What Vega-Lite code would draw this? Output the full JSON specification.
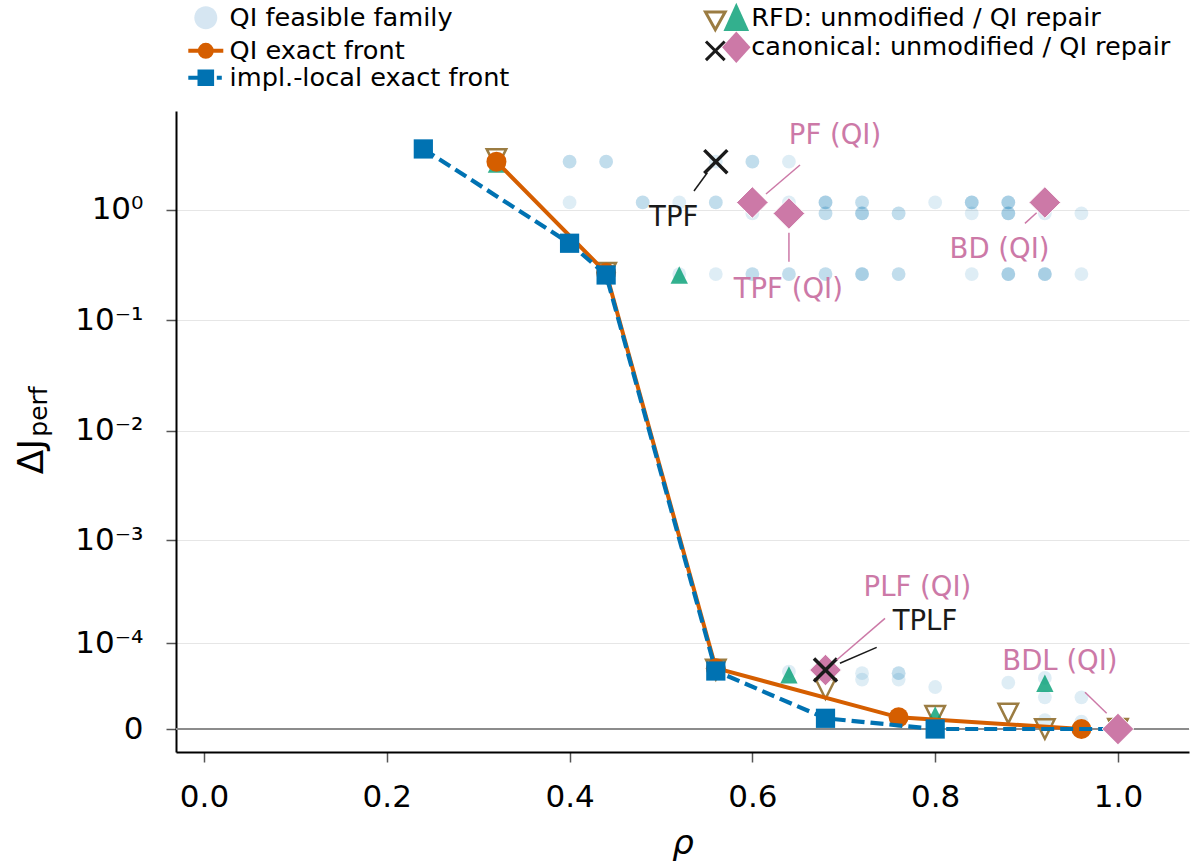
{
  "$schema": "https://vega.github.io/schema/vega-lite/v6.json",
  "width": 1013,
  "height": 641,
  "autosize": {"type": "none"},
  "padding": {"left": 176, "top": 111, "right": 2, "bottom": 113},
  "config": {
    "view": {"stroke": null},
    "font": "DejaVu Sans",
    "axis": {"labelFont": "DejaVu Sans", "titleFont": "DejaVu Sans"},
    "legend": {"labelFont": "DejaVu Sans"}
  },
  "datasets": {
    "feasible": [
      {"rho": 0.40, "dj": 2.74}, {"rho": 0.40, "dj": 2.74}, {"rho": 0.44, "dj": 2.74}, {"rho": 0.44, "dj": 2.74},
      {"rho": 0.56, "dj": 2.74}, {"rho": 0.60, "dj": 2.74}, {"rho": 0.60, "dj": 2.74}, {"rho": 0.64, "dj": 2.74},
      {"rho": 0.40, "dj": 1.17}, {"rho": 0.48, "dj": 1.17}, {"rho": 0.48, "dj": 1.17}, {"rho": 0.52, "dj": 1.17},
      {"rho": 0.56, "dj": 1.17}, {"rho": 0.56, "dj": 1.17}, {"rho": 0.60, "dj": 1.17}, {"rho": 0.64, "dj": 1.17},
      {"rho": 0.68, "dj": 1.17}, {"rho": 0.68, "dj": 1.17}, {"rho": 0.68, "dj": 1.17}, {"rho": 0.72, "dj": 1.17},
      {"rho": 0.72, "dj": 1.17}, {"rho": 0.80, "dj": 1.17}, {"rho": 0.84, "dj": 1.17}, {"rho": 0.84, "dj": 1.17},
      {"rho": 0.84, "dj": 1.17}, {"rho": 0.88, "dj": 1.17}, {"rho": 0.88, "dj": 1.17}, {"rho": 0.88, "dj": 1.17},
      {"rho": 0.92, "dj": 1.17},
      {"rho": 0.60, "dj": 0.93}, {"rho": 0.64, "dj": 0.93}, {"rho": 0.68, "dj": 0.93}, {"rho": 0.68, "dj": 0.93},
      {"rho": 0.72, "dj": 0.93}, {"rho": 0.72, "dj": 0.93}, {"rho": 0.72, "dj": 0.93}, {"rho": 0.76, "dj": 0.93},
      {"rho": 0.76, "dj": 0.93}, {"rho": 0.84, "dj": 0.93}, {"rho": 0.88, "dj": 0.93}, {"rho": 0.88, "dj": 0.93},
      {"rho": 0.88, "dj": 0.93}, {"rho": 0.92, "dj": 0.93}, {"rho": 0.96, "dj": 0.93},
      {"rho": 0.52, "dj": 0.263}, {"rho": 0.56, "dj": 0.263}, {"rho": 0.60, "dj": 0.263}, {"rho": 0.60, "dj": 0.263},
      {"rho": 0.64, "dj": 0.263}, {"rho": 0.64, "dj": 0.263}, {"rho": 0.68, "dj": 0.263}, {"rho": 0.68, "dj": 0.263},
      {"rho": 0.72, "dj": 0.263}, {"rho": 0.72, "dj": 0.263}, {"rho": 0.72, "dj": 0.263}, {"rho": 0.76, "dj": 0.263},
      {"rho": 0.76, "dj": 0.263}, {"rho": 0.84, "dj": 0.263}, {"rho": 0.88, "dj": 0.263}, {"rho": 0.88, "dj": 0.263},
      {"rho": 0.88, "dj": 0.263}, {"rho": 0.92, "dj": 0.263}, {"rho": 0.92, "dj": 0.263}, {"rho": 0.92, "dj": 0.263},
      {"rho": 0.96, "dj": 0.263},
      {"rho": 0.64, "dj": 4.6e-5}, {"rho": 0.72, "dj": 4.4e-5}, {"rho": 0.72, "dj": 3.6e-5}, {"rho": 0.76, "dj": 4.4e-5},
      {"rho": 0.76, "dj": 4.4e-5}, {"rho": 0.76, "dj": 3.6e-5}, {"rho": 0.80, "dj": 2.8e-5}, {"rho": 0.88, "dj": 3.25e-5},
      {"rho": 0.92, "dj": 3.8e-5}, {"rho": 0.92, "dj": 1.87e-5}, {"rho": 0.92, "dj": 4.1e-6}, {"rho": 0.96, "dj": 1.87e-5},
      {"rho": 0.96, "dj": 3.3e-6}
    ],
    "qi": [
      {"rho": 0.32, "dj": 2.74}, {"rho": 0.44, "dj": 0.27}, {"rho": 0.56, "dj": 5.1e-5},
      {"rho": 0.76, "dj": 5.5e-6}, {"rho": 0.96, "dj": 0}
    ],
    "impl": [
      {"rho": 0.24, "dj": 3.57}, {"rho": 0.40, "dj": 0.50}, {"rho": 0.44, "dj": 0.258},
      {"rho": 0.56, "dj": 4.7e-5}, {"rho": 0.68, "dj": 5.0e-6}, {"rho": 0.80, "dj": 0}
    ],
    "impl_line": [
      {"rho": 0.24, "dj": 3.57}, {"rho": 0.40, "dj": 0.50}, {"rho": 0.44, "dj": 0.258},
      {"rho": 0.56, "dj": 4.7e-5}, {"rho": 0.68, "dj": 5.0e-6}, {"rho": 0.80, "dj": 0}, {"rho": 1.0, "dj": 0}
    ],
    "rfd_unmod": [
      {"rho": 0.32, "dj": 2.9}, {"rho": 0.44, "dj": 0.271}, {"rho": 0.56, "dj": 4.9e-5}, {"rho": 0.68, "dj": 2.6e-5},
      {"rho": 0.80, "dj": 6.4e-6}, {"rho": 0.88, "dj": 7.7e-6}, {"rho": 0.92, "dj": 0}, {"rho": 1.0, "dj": 1e-7}
    ],
    "rfd_repair": [
      {"rho": 0.32, "dj": 2.6}, {"rho": 0.52, "dj": 0.258}, {"rho": 0.64, "dj": 4.17e-5},
      {"rho": 0.80, "dj": 6.8e-6}, {"rho": 0.92, "dj": 3.19e-5}
    ],
    "canon_unmod": [
      {"rho": 0.56, "dj": 2.74, "name": "TPF"}, {"rho": 0.68, "dj": 4.84e-5, "name": "TPLF"}
    ],
    "canon_repair": [
      {"rho": 0.60, "dj": 1.17, "name": "PF"}, {"rho": 0.64, "dj": 0.93, "name": "TPF"},
      {"rho": 0.92, "dj": 1.17, "name": "BD"}, {"rho": 0.68, "dj": 4.84e-5, "name": "PLF"},
      {"rho": 1.0, "dj": 0, "name": "BDL"}
    ],
    "annotations": [
      {"label": "PF (QI)", "kind": "QI repair", "tx": 0.6904, "ty": 4.675, "x1": 0.6149, "y1": 1.395, "x2": 0.6521, "y2": 2.556},
      {"label": "TPF (QI)", "kind": "QI repair", "tx": 0.6393, "ty": 0.1887, "x1": 0.640, "y1": 0.6226, "x2": 0.640, "y2": 0.3403},
      {"label": "BD (QI)", "kind": "QI repair", "tx": 0.8704, "ty": 0.4344, "x1": 0.8982, "y1": 0.7574, "x2": 0.9110, "y2": 0.9448},
      {"label": "TPF", "kind": "canonical", "tx": 0.5139, "ty": 0.8464, "x1": 0.5361, "y1": 1.486, "x2": 0.5507, "y2": 2.175},
      {"label": "PLF (QI)", "kind": "QI repair", "tx": 0.7806, "ty": 3.58e-4, "x1": 0.7451, "y1": 1.81e-4, "x2": 0.6922, "y2": 6.43e-5},
      {"label": "TPLF", "kind": "canonical", "tx": 0.7888, "ty": 1.661e-4, "x1": 0.736, "y1": 8.98e-5, "x2": 0.6958, "y2": 5.87e-5},
      {"label": "BDL (QI)", "kind": "QI repair", "tx": 0.9365, "ty": 6.13e-5, "x1": 0.9639, "y1": 2.3e-5, "x2": 0.9876, "y2": 7.74e-6}
    ]
  },
  "layer": [
    {
      "data": {"values": [{}]},
      "mark": {"type": "rule", "color": "#8c8c8c", "strokeWidth": 2},
      "encoding": {
        "y": {
          "datum": 0,
          "type": "quantitative",
          "scale": {"type": "symlog", "constant": 0.00002, "domain": [-0.000012304, 7.876], "nice": false, "zero": false},
          "axis": {
            "orient": "left",
            "values": [0, 0.0001, 0.001, 0.01, 0.1, 1],
            "labelExpr": "datum.value === 0 ? '0' : datum.value > 0.5 ? '10⁰' : datum.value > 0.05 ? '10⁻¹' : datum.value > 0.005 ? '10⁻²' : datum.value > 0.0005 ? '10⁻³' : '10⁻⁴'",
            "grid": true, "gridColor": "#e6e6e6", "gridWidth": 1.2,
            "tickSize": 10, "tickWidth": 1.5, "tickColor": "#555555",
            "domainColor": "#000000", "domainWidth": 2,
            "labelFontSize": 31, "labelPadding": 23, "labelColor": "#000000", "labelFlush": false, "labelOverlap": false,
            "title": "ΔJ", "titleFontSize": 36, "titleFontWeight": "normal", "titleColor": "#000000",
            "titleX": -134, "titleY": 345, "titleAngle": 270, "titleBaseline": "alphabetic", "titleAlign": "center"
          }
        }
      }
    },
    {
      "data": {"name": "feasible"},
      "mark": {"type": "point", "shape": "circle", "filled": true, "fill": "#0072b2", "fillOpacity": 0.13, "strokeWidth": 0, "size": 190, "opacity": 1},
      "encoding": {
        "x": {
          "field": "rho", "type": "quantitative",
          "scale": {"domain": [-0.0306, 1.0777], "nice": false, "zero": false},
          "axis": {
            "values": [0, 0.2, 0.4, 0.6, 0.8, 1], "format": ".1f",
            "labelFontSize": 31, "labelColor": "#000000", "labelPadding": 20, "labelFlush": false, "labelOverlap": false,
            "tickSize": 10, "tickWidth": 1.5, "tickColor": "#555555",
            "domainColor": "#000000", "domainWidth": 2, "grid": false,
            "title": "ρ", "titleFontSize": 34, "titleFontStyle": "italic", "titleFontWeight": "normal", "titlePadding": 14, "titleColor": "#000000"
          }
        },
        "y": {
          "field": "dj", "type": "quantitative",
          "axis": {
            "orient": "left", "labels": false, "ticks": false, "domain": false, "grid": false,
            "title": "perf", "titleFontSize": 25, "titleFontWeight": "normal", "titleColor": "#000000",
            "titleX": -130, "titleY": 300, "titleAngle": 270, "titleBaseline": "alphabetic", "titleAlign": "center"
          }
        }
      }
    },
    {
      "data": {"name": "rfd_unmod"},
      "mark": {"type": "point", "shape": "M-1,-1L1,-1L0,1Z", "filled": false, "stroke": "#9b7c42", "strokeWidth": 2.5, "size": 380, "opacity": 1},
      "encoding": {
        "x": {"field": "rho", "type": "quantitative"},
        "y": {"field": "dj", "type": "quantitative", "axis": null}
      }
    },
    {
      "data": {"name": "rfd_repair"},
      "mark": {"type": "point", "shape": "M0,-1L-1,1L1,1Z", "filled": true, "fill": "#009e73", "fillOpacity": 0.8, "strokeWidth": 0, "size": 300, "opacity": 1},
      "encoding": {
        "x": {"field": "rho", "type": "quantitative"},
        "y": {"field": "dj", "type": "quantitative", "axis": null}
      }
    },
    {
      "data": {"name": "qi"},
      "mark": {"type": "line", "color": "#d55e00", "strokeWidth": 4},
      "encoding": {
        "x": {"field": "rho", "type": "quantitative"},
        "y": {"field": "dj", "type": "quantitative", "axis": null}
      }
    },
    {
      "data": {"name": "qi"},
      "mark": {"type": "point", "shape": "circle", "filled": true, "fill": "#d55e00", "strokeWidth": 0, "size": 400, "opacity": 1},
      "encoding": {
        "x": {"field": "rho", "type": "quantitative"},
        "y": {"field": "dj", "type": "quantitative", "axis": null}
      }
    },
    {
      "data": {"name": "impl_line"},
      "mark": {"type": "line", "color": "#0072b2", "strokeWidth": 4.2, "strokeDash": [13, 6]},
      "encoding": {
        "x": {"field": "rho", "type": "quantitative"},
        "y": {"field": "dj", "type": "quantitative", "axis": null}
      }
    },
    {
      "data": {"name": "impl"},
      "mark": {"type": "point", "shape": "square", "filled": true, "fill": "#0072b2", "strokeWidth": 0, "size": 370, "opacity": 1},
      "encoding": {
        "x": {"field": "rho", "type": "quantitative"},
        "y": {"field": "dj", "type": "quantitative", "axis": null}
      }
    },
    {
      "data": {"name": "canon_repair"},
      "mark": {"type": "point", "shape": "diamond", "filled": true, "fill": "#cc79a7", "stroke": "#ffffff", "strokeWidth": 1, "size": 1000, "opacity": 1},
      "encoding": {
        "x": {"field": "rho", "type": "quantitative"},
        "y": {"field": "dj", "type": "quantitative", "axis": null}
      }
    },
    {
      "data": {"name": "canon_unmod"},
      "mark": {"type": "point", "shape": "M-1,-1L1,1M-1,1L1,-1", "filled": false, "stroke": "#1a1a1a", "strokeWidth": 3.5, "size": 530, "opacity": 1},
      "encoding": {
        "x": {"field": "rho", "type": "quantitative"},
        "y": {"field": "dj", "type": "quantitative", "axis": null}
      }
    },
    {
      "data": {"name": "annotations"},
      "mark": {"type": "rule", "strokeWidth": 1.5},
      "encoding": {
        "x": {"field": "x1", "type": "quantitative"},
        "y": {"field": "y1", "type": "quantitative", "axis": null},
        "x2": {"field": "x2"},
        "y2": {"field": "y2"},
        "color": {"field": "kind", "type": "nominal", "scale": {"domain": ["canonical", "QI repair"], "range": ["#1a1a1a", "#cc79a7"]}, "legend": null}
      }
    },
    {
      "data": {"name": "annotations"},
      "mark": {"type": "text", "fontSize": 27.5, "align": "center", "baseline": "middle", "font": "DejaVu Sans"},
      "encoding": {
        "x": {"field": "tx", "type": "quantitative"},
        "y": {"field": "ty", "type": "quantitative", "axis": null},
        "text": {"field": "label"},
        "color": {"field": "kind", "type": "nominal", "scale": {"domain": ["canonical", "QI repair"], "range": ["#1a1a1a", "#cc79a7"]}, "legend": null}
      }
    },
    {
      "data": {"values": []},
      "mark": {"type": "point", "filled": true, "opacity": 1},
      "encoding": {
        "shape": {
          "field": "la", "type": "nominal",
          "scale": {"domain": ["QI feasible family", "QI exact front", "impl.-local exact front"],
                    "range": ["M-1.15,0A1.15,1.15 0 1,1 1.15,0A1.15,1.15 0 1,1 -1.15,0Z",
                              "M-1.75,0H1.75M-0.6,0A0.6,0.6 0 1,1 0.6,0A0.6,0.6 0 1,1 -0.6,0Z",
                              "M-1.75,0H-0.65M1.1,0H1.6M-0.63,-0.63H0.63V0.63H-0.63Z"]},
          "legend": {"orient": "none", "legendX": 17, "legendY": -106, "title": null,
                     "labelFontSize": 25.6, "labelColor": "#000000", "labelFont": "DejaVu Sans", "labelLimit": 1000,
                     "symbolSize": 400, "symbolStrokeWidth": 4, "rowPadding": -2.5, "padding": 0,
                     "labelOffset": 11, "symbolOffset": 0, "symbolOpacity": 1}
        },
        "fill": {
          "field": "la", "type": "nominal",
          "scale": {"domain": ["QI feasible family", "QI exact front", "impl.-local exact front"],
                    "range": ["#d6e6f2", "#d55e00", "#0072b2"]}
        },
        "stroke": {
          "field": "la", "type": "nominal",
          "scale": {"domain": ["QI feasible family", "QI exact front", "impl.-local exact front"],
                    "range": ["transparent", "#d55e00", "#0072b2"]}
        }
      }
    },
    {
      "data": {"values": []},
      "mark": {"type": "point", "filled": true, "opacity": 1},
      "encoding": {
        "shape": {
          "field": "lb", "type": "nominal",
          "scale": {"domain": ["RFD unmodified", "canonical unmodified"],
                    "range": ["M-0.985,-0.585L0.985,-0.585L0,1.185Z",
                              "M-0.935,-0.835L0.935,1.035M-0.935,1.035L0.935,-0.835"]},
          "legend": {"orient": "none", "legendX": 526.5, "legendY": -106, "title": null,
                     "labelFontSize": 25.6, "labelColor": "#000000", "labelExpr": "''",
                     "symbolSize": 400, "symbolStrokeWidth": 3, "rowPadding": -1, "padding": 0,
                     "labelOffset": 2, "symbolOffset": 0, "symbolOpacity": 1}
        },
        "fill": {
          "field": "lb", "type": "nominal",
          "scale": {"domain": ["RFD unmodified", "canonical unmodified"], "range": ["transparent", "transparent"]}
        },
        "stroke": {
          "field": "lb", "type": "nominal",
          "scale": {"domain": ["RFD unmodified", "canonical unmodified"], "range": ["#9b7c42", "#1a1a1a"]}
        }
      }
    },
    {
      "data": {"values": []},
      "mark": {"type": "point", "filled": true, "opacity": 1},
      "encoding": {
        "shape": {
          "field": "lc", "type": "nominal",
          "scale": {"domain": ["RFD: unmodified / QI repair", "canonical: unmodified / QI repair"],
                    "range": ["M0,-1.515L-1.28,1.315L1.28,1.315Z",
                              "M0,-1.53L1.42,0.05L0,1.63L-1.42,0.05Z"]},
          "legend": {"orient": "none", "legendX": 547.5, "legendY": -106, "title": null,
                     "labelFontSize": 25.6, "labelColor": "#000000", "labelFont": "DejaVu Sans", "labelLimit": 1000,
                     "symbolSize": 400, "symbolStrokeWidth": 0, "rowPadding": -1, "padding": 0,
                     "labelOffset": 2.2, "symbolOffset": 0, "symbolOpacity": 1}
        },
        "fill": {
          "field": "lc", "type": "nominal",
          "scale": {"domain": ["RFD: unmodified / QI repair", "canonical: unmodified / QI repair"], "range": ["#33b08e", "#cc79a7"]}
        },
        "stroke": {
          "field": "lc", "type": "nominal",
          "scale": {"domain": ["RFD: unmodified / QI repair", "canonical: unmodified / QI repair"], "range": ["transparent", "transparent"]}
        }
      }
    }
  ],
  "resolve": {
    "scale": {"shape": "independent", "fill": "independent", "stroke": "independent", "color": "independent"},
    "axis": {"y": "independent"},
    "legend": {"shape": "independent", "fill": "independent", "stroke": "independent"}
  }
}
